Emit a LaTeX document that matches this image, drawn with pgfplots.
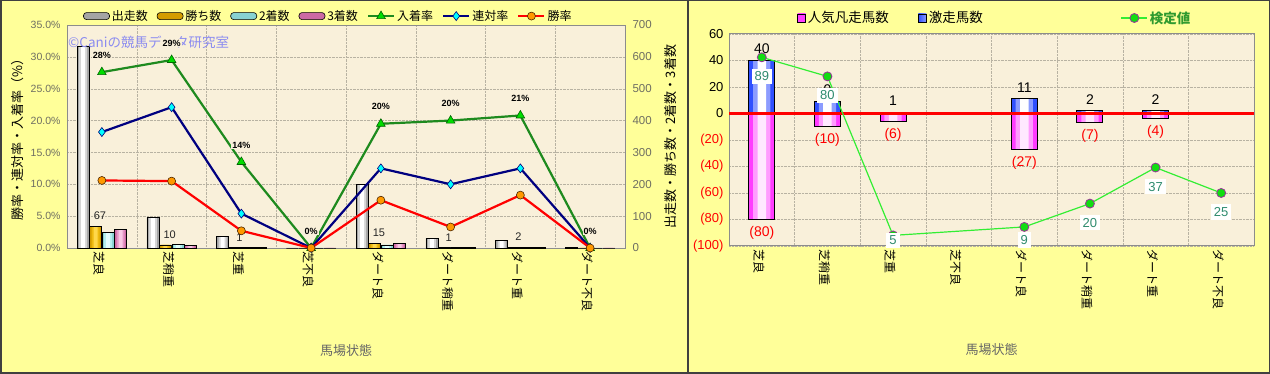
\documentclass[border=0pt]{standalone}
\usepackage{fontspec}
\usepackage{pgfplots}
\usepackage{pgfplotstable}
\pgfplotsset{compat=1.18}
\setmainfont{Liberation Sans}
\newfontfamily\jp{Noto Sans CJK JP}
\definecolor{panelbg}{HTML}{FFFF99}
\definecolor{plotbg}{HTML}{F9F0DA}
\definecolor{gridc}{HTML}{B8B2A2}
\definecolor{tickgray}{HTML}{6E6E62}
\definecolor{frame}{HTML}{404040}
\definecolor{grayA}{HTML}{A4A4A4}
\definecolor{grayB}{HTML}{D6D6D6}
\definecolor{grayC}{HTML}{FFFFFF}
\definecolor{goldA}{HTML}{D49C00}
\definecolor{goldB}{HTML}{EEBA10}
\definecolor{goldC}{HTML}{FFD84A}
\definecolor{cyanA}{HTML}{88D2D2}
\definecolor{cyanB}{HTML}{B4EEEE}
\definecolor{cyanC}{HTML}{E2FFFF}
\definecolor{pinkA}{HTML}{CC6AA4}
\definecolor{pinkB}{HTML}{E696C6}
\definecolor{pinkC}{HTML}{F8C8E4}
\definecolor{magA}{HTML}{FF3CFF}
\definecolor{magB}{HTML}{FF9CFF}
\definecolor{magC}{HTML}{FFE8FF}
\definecolor{blueA}{HTML}{3050FF}
\definecolor{blueB}{HTML}{8C9CFF}
\definecolor{blueC}{HTML}{FFFFFF}
\definecolor{placeG}{HTML}{1E8A1E}
\definecolor{triG}{HTML}{00DD00}
\definecolor{navyC}{HTML}{000080}
\definecolor{diaC}{HTML}{00FFFF}
\definecolor{orangeM}{HTML}{FF9900}
\definecolor{lineG}{HTML}{33EE33}
\definecolor{dotG}{HTML}{11DD11}
\definecolor{dotB}{HTML}{993399}
\definecolor{labG}{HTML}{2E8B6E}
\definecolor{wm}{HTML}{8C8CF0}
\definecolor{legG}{HTML}{2F9A2F}

\pgfplotsset{
  /pgf/number format/assume math mode=true,
  barleg/.style n args={3}{legend image code/.code={\draw[black, line width=0.6pt, rounded corners=3pt, top color=#1, middle color=#2, bottom color=#3] (0pt,-3.5pt) rectangle (26pt,3.5pt);}},
  sqleg/.style n args={3}{legend image code/.code={\draw[black, line width=0.8pt, left color=#1, middle color=#2, right color=#3] (0pt,-4pt) rectangle (8pt,4pt);}},
  lineleg/.style={legend image code/.code={\draw[mark repeat=2,mark phase=2,##1] plot coordinates {(0pt,0pt) (13pt,0pt) (26pt,0pt)};}},
}

% left panel counts
\pgfplotstableread{
x runs win sec thr
0 632 67 48 59
1 95 10 11 7
2 37 1 1 3
3 0 0 0 0
4 200 15 10 14
5 30 1 2 3
6 24 2 1 2
7 3 0 0 0
}\cnt
% right panel bars
\pgfplotstableread{
x pos neg negm
0 40 -80 80
1 9 -10 10
2 1 -6 6
4 11 -27 27
5 2 -7 7
6 2 -4 4
}\hot

% layered bar: #1 shift, #2 table, #3 column, #4 width, #5 #6 #7 colours, #8 outline options
\newcommand{\lbar}[8]{%
 \addplot[ybar, bar shift=#1, bar width=#4, fill=#5, draw=none, forget plot] table[x=x,y=#3]{#2};
 \addplot[ybar, bar shift=#1, bar width=0.66*#4, fill=#6, draw=none, forget plot] table[x=x,y=#3]{#2};
 \addplot[ybar, bar shift=#1, bar width=0.33*#4, fill=#7, draw=none, forget plot] table[x=x,y=#3]{#2};
 \addplot[ybar, bar shift=#1, bar width=#4, fill=none, draw=black, forget plot, #8] table[x=x,y=#3]{#2};
}

\begin{document}
\begin{tikzpicture}[x=1pt,y=1pt]
\fill[panelbg] (0,0) rectangle (1270,374);

% ---------------- left panel: bars (right axis, counts)
\begin{axis}[
  at={(67pt,126pt)}, anchor=south west, scale only axis,
  width=558pt, height=223pt,
  xmin=-0.5, xmax=7.5, ymin=0, ymax=700,
  axis background/.style={fill=plotbg},
  axis line style={draw=gray!90, line width=0.8pt},
  xtick={0,...,7},
  xticklabels={芝良,芝稍重,芝重,芝不良,ダート良,ダート稍重,ダート重,ダート不良},
  xticklabel style={rotate=-90, anchor=west, font=\jp\fontsize{12}{12}\selectfont, text=black, yshift=-3pt},
  minor xtick={0.5,1.5,...,6.5},
  xminorgrids=true,
  ytick={0,100,...,700},
  ymajorgrids=true,
  major grid style={densely dotted, gridc},
  minor grid style={densely dotted, gridc},
  yticklabel pos=right,
  yticklabel style={font=\fontsize{11.5}{12}\selectfont, text=tickgray, xshift=4pt},
  major tick length=0pt, minor tick length=0pt,
  ylabel={出走数・勝ち数・2着数・3着数},
  ylabel style={at={(axis description cs:1.081,0.5)}, anchor=center, font=\jp\fontsize{13}{13}\selectfont},
  xlabel={馬場状態},
  xlabel style={at={(axis description cs:0.5,-0.46)}, anchor=center, font=\jp\fontsize{13}{13}\selectfont, text=black!60},
  clip=false,
]
\lbar{-18.75pt}{\cnt}{runs}{12pt}{grayA}{grayB}{grayC}{line width=0.6pt}
\lbar{-6.25pt}{\cnt}{win}{12pt}{goldA}{goldB}{goldC}{line width=0.6pt,
  nodes near coords={\pgfmathfloatifflags{\pgfplotspointmeta}{0}{}{\pgfmathprintnumber{\pgfplotspointmeta}}},
  every node near coord/.append style={font=\fontsize{11}{11}\selectfont, text=black!85, anchor=south, yshift=3pt, xshift=-2pt}}
\lbar{6.25pt}{\cnt}{sec}{12pt}{cyanA}{cyanB}{cyanC}{line width=0.6pt}
\lbar{18.75pt}{\cnt}{thr}{12pt}{pinkA}{pinkB}{pinkC}{line width=0.6pt}
\node[anchor=west, text=wm, font=\jp\fontsize{13.5}{13.5}\selectfont, inner sep=1pt] at (axis description cs:0,0.924) {©Caniの競馬データ研究室};
\end{axis}

% ---------------- left panel: rates (left axis, %)
\begin{axis}[
  at={(67pt,126pt)}, anchor=south west, scale only axis,
  width=558pt, height=223pt,
  xmin=-0.5, xmax=7.5, ymin=0, ymax=35,
  axis x line=none, axis y line*=left,
  axis line style={draw=gray!90, line width=0.8pt},
  ytick={0,5,...,35},
  yticklabel={\pgfmathprintnumber[fixed,fixed zerofill,precision=1]{\tick}\%},
  yticklabel style={font=\fontsize{10.5}{11}\selectfont, text=tickgray, xshift=-3pt},
  major tick length=0pt,
  ylabel={勝率・連対率・入着率（\%）},
  ylabel style={at={(axis description cs:-0.089,0.5)}, anchor=center, font=\jp\fontsize{13}{13}\selectfont},
  legend style={at={(axis description cs:0.0287,1.040)}, anchor=west, draw=none, fill=none,
    font=\jp\fontsize{12}{12}\selectfont, inner sep=0pt,
    /tikz/every even column/.append style={column sep=7pt}},
  legend columns=-1,
  clip=false,
]
\addlegendimage{barleg={grayA}{white}{grayA}}
\addlegendentry{出走数}
\addlegendimage{barleg={goldA}{goldC}{goldA}}
\addlegendentry{勝ち数}
\addlegendimage{barleg={cyanA}{cyanC}{cyanA}}
\addlegendentry{2着数}
\addlegendimage{barleg={pinkA}{pinkC}{pinkA}}
\addlegendentry{3着数}
\addplot[lineleg, placeG, line width=2.2pt, mark=triangle*, mark size=5pt,
  mark options={fill=triG, draw=black!60!green, line width=0.6pt},
  point meta=explicit,
  nodes near coords={\pgfmathprintnumber{\pgfplotspointmeta}\%},
  every node near coord/.append style={anchor=center, yshift=17pt, font=\bfseries\fontsize{9}{9}\selectfont, text=black, fill=plotbg, inner sep=1pt}]
  coordinates {(0,27.6)[28] (1,29.5)[29] (2,13.5)[14] (3,0)[0] (4,19.5)[20] (5,20.0)[20] (6,20.8)[21] (7,0)[0]};
\addlegendentry{入着率}
\addplot[lineleg, navyC, line width=2.2pt, mark=diamond*, mark size=4.5pt,
  mark options={fill=diaC, draw=navyC, line width=0.6pt}]
  coordinates {(0,18.2) (1,22.1) (2,5.4) (3,0) (4,12.5) (5,10.0) (6,12.5) (7,0)};
\addlegendentry{連対率}
\addplot[lineleg, red, line width=2.2pt, mark=*, mark size=4pt,
  mark options={fill=orangeM, draw=black!70!orange, line width=0.6pt}]
  coordinates {(0,10.6) (1,10.5) (2,2.7) (3,0) (4,7.5) (5,3.3) (6,8.3) (7,0)};
\addlegendentry{勝率}
\end{axis}

% ---------------- right panel: bars
\begin{axis}[
  at={(729pt,128pt)}, anchor=south west, scale only axis,
  width=525pt, height=212pt,
  xmin=-0.5, xmax=7.5, ymin=-100, ymax=60,
  axis background/.style={fill=plotbg},
  axis line style={draw=gray!90, line width=1pt},
  xtick={0,...,7},
  xticklabels={芝良,芝稍重,芝重,芝不良,ダート良,ダート稍重,ダート重,ダート不良},
  xticklabel style={rotate=-90, anchor=west, font=\jp\fontsize{12}{12}\selectfont, text=black, yshift=-3pt},
  minor xtick={0.5,1.5,...,6.5},
  xminorgrids=true,
  ytick={-100,-80,...,60},
  yticklabels={\textcolor{red}{(100)},\textcolor{red}{(80)},\textcolor{red}{(60)},\textcolor{red}{(40)},\textcolor{red}{(20)},0,20,40,60},
  yticklabel style={font=\fontsize{13}{13}\selectfont, text=black, xshift=-2pt},
  ymajorgrids=true,
  major grid style={densely dotted, gridc},
  minor grid style={densely dotted, gridc},
  major tick length=0pt, minor tick length=0pt,
  xlabel={馬場状態},
  xlabel style={at={(axis description cs:0.5,-0.49)}, anchor=center, font=\jp\fontsize{13}{13}\selectfont, text=black!60},
  clip=false,
]
\lbar{0pt}{\hot}{neg}{26pt}{magA}{magB}{magC}{line width=1pt,
  point meta=\thisrow{negm},
  nodes near coords={(\pgfmathprintnumber{\pgfplotspointmeta})},
  every node near coord/.append style={anchor=north, yshift=-3pt, text=red, font=\fontsize{14}{14}\selectfont}}
\lbar{0pt}{\hot}{pos}{26pt}{blueA}{blueB}{blueC}{line width=1pt,
  nodes near coords,
  every node near coord/.append style={anchor=south, yshift=3pt, text=black, font=\fontsize{14}{14}\selectfont}}
\addplot[red, line width=2.5pt, forget plot] coordinates {(-0.5,0) (7.5,0)};
\end{axis}

% ---------------- right panel: test value (hidden 0-100 axis)
\begin{axis}[
  at={(729pt,128pt)}, anchor=south west, scale only axis,
  width=525pt, height=212pt,
  xmin=-0.5, xmax=7.5, ymin=0, ymax=100,
  hide axis, clip=false,
  legend style={at={(axis description cs:0.1295,1.0755)}, anchor=west, draw=none, fill=none,
    font=\jp\fontsize{13.5}{13.5}\selectfont, inner sep=0pt,
    /tikz/column 2/.style={column sep=27pt},
    /tikz/column 4/.style={column sep=136pt}},
  legend columns=-1,
]
\addlegendimage{sqleg={magA}{magC}{magA}}
\addlegendentry{人気凡走馬数}
\addlegendimage{sqleg={blueA}{white}{blueB}}
\addlegendentry{激走馬数}
\addplot[lineleg, lineG, line width=1.2pt, mark=*, mark size=4.5pt,
  mark options={fill=dotG, draw=dotB, line width=0.8pt}]
  coordinates {(0,89) (1,80) (2,5) (4,9) (5,20) (6,37) (7,25)};
\addlegendentry{\textcolor{legG}{\bfseries 検定値}}
\addplot[draw=none, mark=none, forget plot, point meta=explicit, nodes near coords,
  every node near coord/.append style={anchor=center, fill=white, text=labG, font=\fontsize{13}{13}\selectfont, inner sep=3pt}]
  coordinates {(0,80)[89] (1,71)[80] (2,2.8)[5] (4,2.8)[9] (5,11)[20] (6,28)[37] (7,16)[25]};
\end{axis}

\draw[frame, line width=1.5pt] (0.75,0.75) rectangle (688,373.25);
\draw[frame, line width=1.5pt] (688,0.75) rectangle (1269.25,373.25);
\pgfresetboundingbox
\useasboundingbox (0,0) rectangle (1270,374);
\end{tikzpicture}
\end{document}
